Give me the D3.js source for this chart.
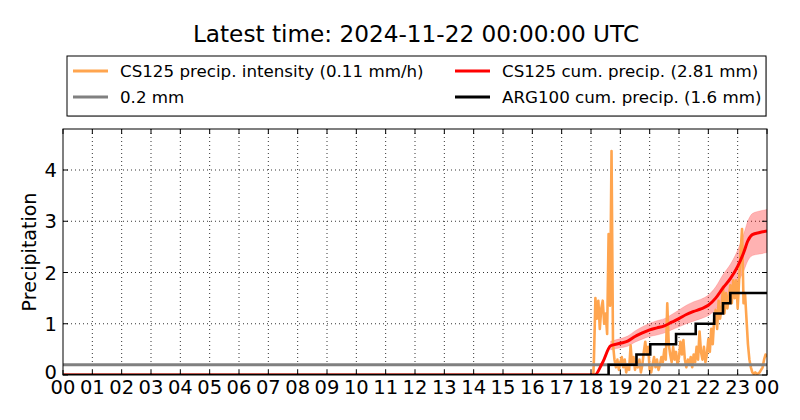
<!DOCTYPE html>
<html>
<head>
<meta charset="utf-8">
<script src="https://cdn.jsdelivr.net/npm/d3@7"></script>
<style>
  body { margin: 0; background: #fff; }
  svg { font-family: "DejaVu Sans", sans-serif; }
</style>
</head>
<body>
<svg id="chart" width="800" height="420"></svg>
<script>
// hour ticks 00..23, 00
const hourLabels = ["00","01","02","03","04","05","06","07","08","09","10","11",
  "12","13","14","15","16","17","18","19","20","21","22","23","00"];
const yTicks = [0, 1, 2, 3, 4];
const thresholdMm = 0.2;

// CS125 precip. intensity, 3-minute samples from 18:06
const intensityStart = 18.1;
const intensityStep = 0.05;
const intensity = [
  0.3, 1.5, 1.1, 1.45, 0.9, 1.3, 1.45, 1.0, 1.2, 0.8,
  2.75, 1.35, 4.37, 0.6, 0.3, 0.15, 0.3, 0.1, 0.25, 0.35,
  0.15, 0.3, 0.05, 0.2, 0.1, 0.58, 0.2, 0.35, 0.1, 0.25,
  0.15, 0.3, 0.05, 0.2, 0.45, 0.65, 0.4, 0.55, 0.1, 0.05,
  0.2, 0.35, 0.15, 0.3, 0.1, 0.2, 0.35, 0.25, 0.5, 0.3,
  1.4, 0.6, 0.4, 0.25, 0.55, 0.3, 0.45, 0.2, 0.35, 0.65,
  0.4, 0.68, 0.3, 0.15, 0.3, 0.2, 0.35, 0.15, 0.4, 0.25,
  0.55, 0.3, 0.85, 0.45, 0.3, 0.55, 0.25, 0.4, 0.7, 0.45,
  0.9, 0.6, 1.1, 1.27, 0.9, 1.45, 1.1, 1.3, 1.72, 1.2,
  1.6, 1.3, 1.55, 1.75, 1.4, 1.85, 1.5, 1.85, 1.3, 1.85,
  2.4, 2.85, 1.4, 1.6, 1.1, 0.6, 0.3, 0.15, 0.05, 0.02,
  0.05, 0.02, 0.03, 0.05, 0.1, 0.15, 0.3, 0.4, 0.35
];

// CS125 cumulative precipitation
const cumTimes = [0, 18.13, 18.4, 18.67, 19.0, 19.25, 19.5, 19.75, 20.0, 20.25, 20.5, 20.75,
  21.0, 21.25, 21.5, 21.75, 22.0, 22.25, 22.5, 22.75, 23.0, 23.2, 23.35, 23.5, 23.75, 24.0];
const cumValues = [0, 0, 0.25, 0.57, 0.62, 0.66, 0.75, 0.82, 0.88, 0.92, 0.96, 1.03,
  1.1, 1.18, 1.24, 1.29, 1.36, 1.5, 1.7, 1.88, 2.12, 2.38, 2.62, 2.74, 2.78, 2.81];

// uncertainty band of the CS125 cumulative
const bandTimes = [18.67, 19.0, 19.25, 19.5, 19.75, 20.0, 20.25, 20.5, 20.75, 21.0, 21.25,
  21.5, 21.75, 22.0, 22.25, 22.5, 22.75, 23.0, 23.2, 23.35, 23.5, 23.75, 24.0];
const bandLow = [0.49, 0.53, 0.56, 0.64, 0.70, 0.75, 0.78, 0.82, 0.88, 0.94, 1.0,
  1.05, 1.10, 1.16, 1.28, 1.45, 1.60, 1.80, 2.02, 2.23, 2.33, 2.36, 2.39];
const bandHigh = [0.66, 0.71, 0.76, 0.86, 0.94, 1.01, 1.06, 1.10, 1.18, 1.27, 1.36,
  1.43, 1.48, 1.56, 1.72, 1.96, 2.16, 2.44, 2.74, 3.01, 3.15, 3.20, 3.23];

// ARG100 cumulative (tipping bucket steps)
const argTimes = [0, 18.6, 19.55, 20.02, 20.9, 21.57, 22.2, 22.5, 22.75, 24];
const argValues = [0, 0.2, 0.4, 0.6, 0.8, 1.0, 1.2, 1.4, 1.6, 1.6];

(function() {
  const svg = d3.select("#chart");
  const left = 63, right = 767, top = 129, bottom = 375;

  const x = d3.scaleLinear().domain([0, 24]).range([left, right]);
  const y = d3.scaleLinear().domain([0, 4.8]).range([bottom, top]);

  svg.append("defs").append("clipPath").attr("id", "plot")
    .append("rect").attr("x", left).attr("y", top)
    .attr("width", right - left).attr("height", bottom - top);

  // grid
  const grid = svg.append("g").attr("stroke", "#000").attr("stroke-width", 0.8)
    .attr("stroke-dasharray", "1,3");
  grid.selectAll("line.v").data(d3.range(1, 24)).enter().append("line")
    .attr("x1", d => x(d)).attr("x2", d => x(d))
    .attr("y1", top).attr("y2", bottom);
  grid.selectAll("line.h").data(yTicks.slice(1)).enter().append("line")
    .attr("x1", left).attr("x2", right)
    .attr("y1", d => y(d)).attr("y2", d => y(d));

  const plot = svg.append("g").attr("clip-path", "url(#plot)");

  const bandData = bandTimes.map((t, i) => ({ t, lo: bandLow[i], hi: bandHigh[i] }));
  plot.append("path").datum(bandData)
    .attr("fill", "red").attr("fill-opacity", 0.3)
    .attr("stroke", "red").attr("stroke-opacity", 0.15)
    .attr("d", d3.area().curve(d3.curveMonotoneX)
      .x(d => x(d.t)).y0(d => y(d.lo)).y1(d => y(d.hi)));

  const intData = [[0, 0], [intensityStart - 0.02, 0]]
    .concat(intensity.map((v, i) => [intensityStart + i * intensityStep, v]));
  plot.append("path").datum(intData)
    .attr("fill", "none").attr("stroke", "#ffa54f").attr("stroke-width", 2.6)
    .attr("stroke-linejoin", "round")
    .attr("d", d3.line().x(d => x(d[0])).y(d => y(d[1])));

  plot.append("line")
    .attr("x1", left).attr("x2", right)
    .attr("y1", y(thresholdMm)).attr("y2", y(thresholdMm))
    .attr("stroke", "#808080").attr("stroke-width", 3);

  plot.append("path").datum(cumTimes.map((t, i) => [t, cumValues[i]]))
    .attr("fill", "none").attr("stroke", "red").attr("stroke-width", 3)
    .attr("d", d3.line().curve(d3.curveMonotoneX).x(d => x(d[0])).y(d => y(d[1])));

  plot.append("path").datum(argTimes.map((t, i) => [t, argValues[i]]))
    .attr("fill", "none").attr("stroke", "#000").attr("stroke-width", 2.6)
    .attr("d", d3.line().curve(d3.curveStepAfter).x(d => x(d[0])).y(d => y(d[1])));

  // frame + inward ticks
  svg.append("rect").attr("x", left).attr("y", top)
    .attr("width", right - left).attr("height", bottom - top)
    .attr("fill", "none").attr("stroke", "#000").attr("stroke-width", 1);

  const ticks = svg.append("g").attr("stroke", "#000").attr("stroke-width", 1);
  hourLabels.forEach((lab, i) => {
    ticks.append("line").attr("x1", x(i)).attr("x2", x(i)).attr("y1", bottom).attr("y2", bottom - 5);
    ticks.append("line").attr("x1", x(i)).attr("x2", x(i)).attr("y1", top).attr("y2", top + 5);
  });
  yTicks.forEach(v => {
    ticks.append("line").attr("x1", left).attr("x2", left + 5).attr("y1", y(v)).attr("y2", y(v));
    ticks.append("line").attr("x1", right).attr("x2", right - 5).attr("y1", y(v)).attr("y2", y(v));
  });

  svg.append("g").selectAll("text").data(hourLabels).enter().append("text")
    .attr("x", (d, i) => x(i)).attr("y", bottom + 19)
    .attr("text-anchor", "middle").attr("font-size", 19.5).text(d => d);

  svg.append("g").selectAll("text").data(yTicks).enter().append("text")
    .attr("x", left - 6).attr("y", d => y(d) + (d === 0 ? 4 : 7))
    .attr("text-anchor", "end").attr("font-size", 19.5).text(d => d);

  svg.append("text")
    .attr("transform", `translate(36,${(top + bottom) / 2}) rotate(-90)`)
    .attr("text-anchor", "middle").attr("font-size", 19).text("Precipitation");

  svg.append("text").attr("x", (left + right) / 2 + 1).attr("y", 42)
    .attr("text-anchor", "middle").attr("font-size", 23.2)
    .text("Latest time: 2024-11-22 00:00:00 UTC");

  // legend
  const legend = svg.append("g");
  legend.append("rect").attr("x", 68).attr("y", 57).attr("width", 699).attr("height", 60)
    .attr("fill", "#d0d0d0");
  legend.append("rect").attr("x", 67).attr("y", 56).attr("width", 699).attr("height", 60)
    .attr("fill", "#fff").attr("stroke", "#000").attr("stroke-width", 1);
  const items = [
    { col: 0, row: 0, color: "#ffa54f", label: "CS125 precip. intensity (0.11 mm/h)" },
    { col: 1, row: 0, color: "red", label: "CS125 cum. precip. (2.81 mm)" },
    { col: 0, row: 1, color: "#808080", label: "0.2 mm" },
    { col: 1, row: 1, color: "#000", label: "ARG100 cum. precip. (1.6 mm)" }
  ];
  const colX = [73, 455];
  items.forEach(it => {
    const ly = 71 + it.row * 26;
    legend.append("line").attr("x1", colX[it.col]).attr("x2", colX[it.col] + 35)
      .attr("y1", ly).attr("y2", ly).attr("stroke", it.color).attr("stroke-width", 3);
    legend.append("text").attr("x", colX[it.col] + 47).attr("y", ly + 6)
      .attr("font-size", 16.7).text(it.label);
  });
})();
</script>
</body>
</html>
